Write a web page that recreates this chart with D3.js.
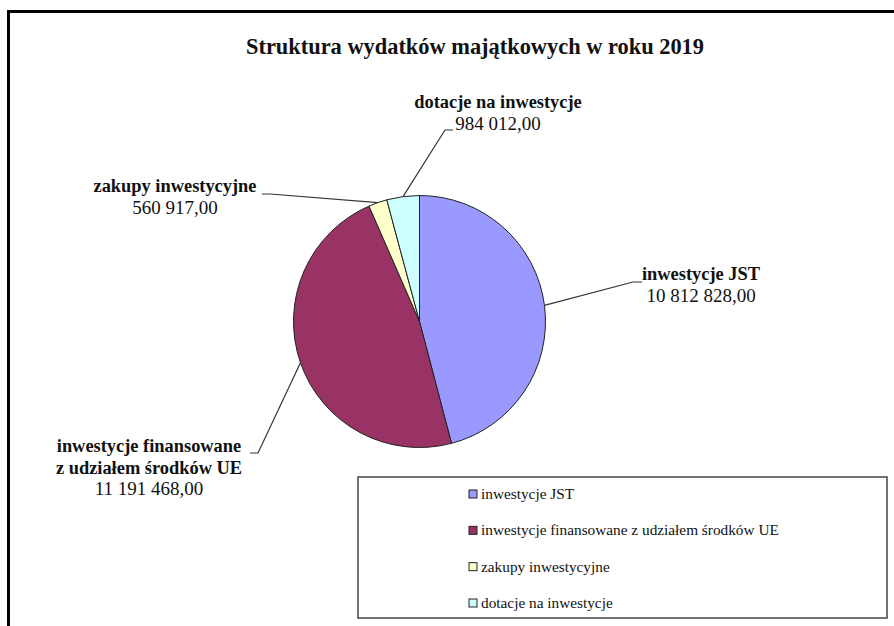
<!DOCTYPE html>
<html lang="pl">
<head>
  <meta charset="UTF-8">
  <title>Struktura wydatków majątkowych</title>
  <script src="https://cdn.jsdelivr.net/npm/d3@7"></script>
  <style>
    body { margin: 0; padding: 0; background: #fff; }
    svg text { font-family: "Liberation Serif", "Times New Roman", serif; fill: #111; }
  </style>
</head>
<body>
  <svg id="chart" width="894" height="626"></svg>
  <script>
    // dane
    var categories = ['inwestycje JST', 'inwestycje finansowane z udziałem środków UE', 'zakupy inwestycyjne', 'dotacje na inwestycje'];
    var values = [10812828, 11191468, 560917, 984012];
    var valueLabels = ['10 812 828,00', '11 191 468,00', '560 917,00', '984 012,00'];
    var colors = ['#9999FF', '#993366', '#FFFFCC', '#CCFFFF'];

    var svg = d3.select('#chart');

    // ramka wykresu
    svg.append('rect')
      .attr('x', 8.5).attr('y', 11.5)
      .attr('width', 950).attr('height', 700)
      .attr('fill', 'none').attr('stroke', '#000').attr('stroke-width', 3);

    svg.append('text')
      .attr('x', 475).attr('y', 54)
      .attr('text-anchor', 'middle')
      .attr('font-weight', 'bold').attr('font-size', 22.4)
      .text('Struktura wydatków majątkowych w roku 2019');

    var cx = 419.5, cy = 321.5, r = 126;
    var data = categories.map(function(c, i) {
      return { name: c, value: values[i], label: valueLabels[i], color: colors[i] };
    });

    var pie = d3.pie().sort(null).value(function(d) { return d.value; });
    var arc = d3.arc().innerRadius(0).outerRadius(r);
    var arcs = pie(data);

    var g = svg.append('g').attr('transform', 'translate(' + [cx, cy] + ')');
    g.selectAll('path')
      .data(arcs).enter().append('path')
      .attr('d', arc)
      .attr('fill', function(d) { return d.data.color; })
      .attr('stroke', '#222').attr('stroke-width', 1);

    // etykiety z liniami odniesienia
    var labelPos = [
      { elbow: [633, 282], end: [642, 282], x: 701, y: 280, lines: ['inwestycje JST'] },
      { elbow: [258, 453], end: [250, 453], x: 149, y: 452, lines: ['inwestycje finansowane', 'z udziałem środków UE'] },
      { elbow: [270, 194], end: [262, 194], x: 175, y: 192, lines: ['zakupy inwestycyjne'] },
      { elbow: [445, 130], end: [453, 130], x: 498, y: 108, lines: ['dotacje na inwestycje'] }
    ];

    arcs.forEach(function(a, i) {
      var p = labelPos[i];
      var mid = (a.startAngle + a.endAngle) / 2;
      var sx = cx + r * Math.sin(mid), sy = cy - r * Math.cos(mid);
      svg.append('polyline')
        .attr('points', [[sx, sy], p.elbow, p.end].map(function(q) { return q.join(','); }).join(' '))
        .attr('fill', 'none').attr('stroke', '#333').attr('stroke-width', 1.2);

      var t = svg.append('text')
        .attr('text-anchor', 'middle')
        .attr('font-size', 18.4);
      p.lines.forEach(function(l, j) {
        t.append('tspan').attr('x', p.x).attr('y', p.y + j * 21.5)
          .attr('font-weight', 'bold').text(l);
      });
      t.append('tspan').attr('x', p.x).attr('y', p.y + p.lines.length * 21.5)
        .attr('font-size', 19).text(a.data.label);
    });

    // legenda
    svg.append('rect')
      .attr('x', 358).attr('y', 477)
      .attr('width', 529).attr('height', 141)
      .attr('fill', '#fff').attr('stroke', '#444').attr('stroke-width', 1.5);

    var ly = d3.scalePoint().domain(categories).range([494, 603]);
    var leg = svg.selectAll('g.leg')
      .data(data).enter().append('g')
      .attr('class', 'leg')
      .attr('transform', function(d) { return 'translate(469,' + ly(d.name) + ')'; });
    leg.append('rect')
      .attr('x', 0).attr('y', -4).attr('width', 8).attr('height', 8)
      .attr('fill', function(d) { return d.color; })
      .attr('stroke', '#222').attr('stroke-width', 1);
    leg.append('text')
      .attr('x', 12).attr('y', 5)
      .attr('font-size', 15.3)
      .text(function(d) { return d.name; });
  </script>
</body>
</html>
